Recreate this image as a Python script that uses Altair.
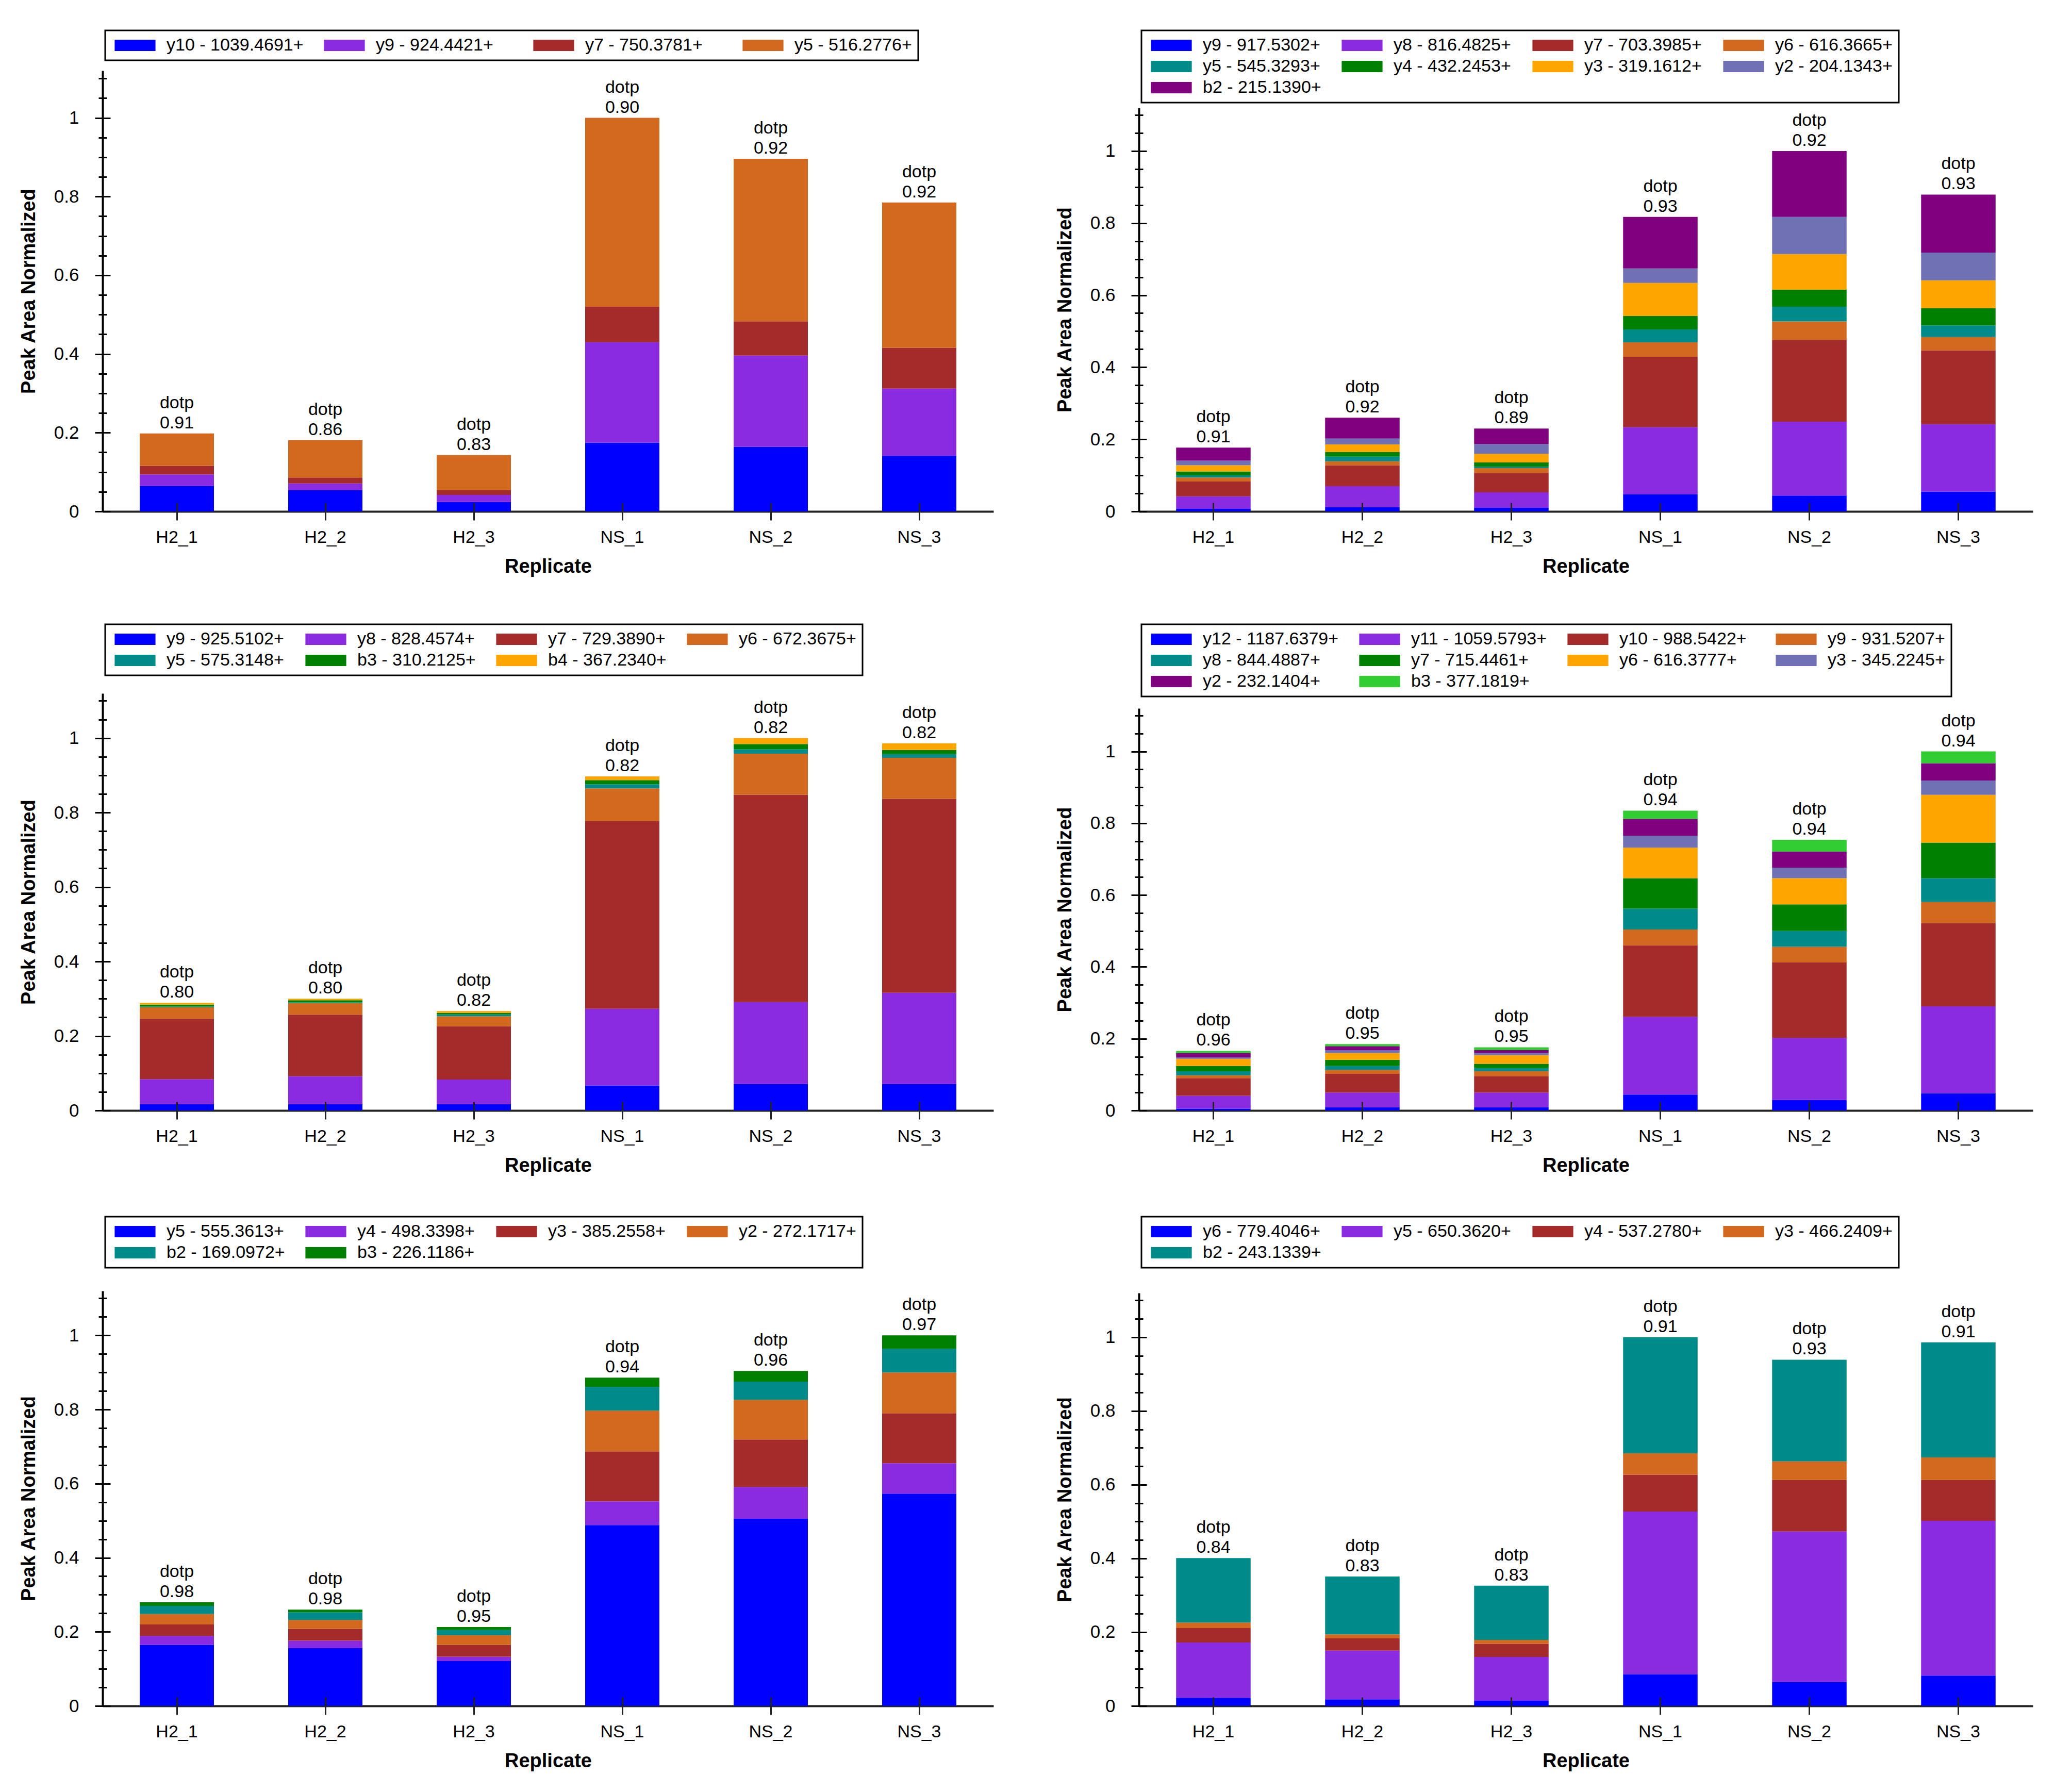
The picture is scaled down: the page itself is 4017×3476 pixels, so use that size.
import altair as alt
import pandas as pd

FONT = "Liberation Sans"
REPLICATES = ["H2_1", "H2_2", "H2_3", "NS_1", "NS_2", "NS_3"]

# ---------------- Panel 1 ----------------
P1_IONS = ["y10 - 1039.4691+", "y9 - 924.4421+", "y7 - 750.3781+", "y5 - 516.2776+"]
P1_COLORS = ["#0000FF", "#8A2BE2", "#A52A2A", "#D2691E"]
P1_VALUES = [
    [0.065, 0.054, 0.024, 0.175, 0.164, 0.141],
    [0.029, 0.017, 0.018, 0.255, 0.232, 0.171],
    [0.022, 0.015, 0.012, 0.090, 0.087, 0.104],
    [0.082, 0.095, 0.089, 0.480, 0.413, 0.369],
]
P1_DOTP = ["0.91", "0.86", "0.83", "0.90", "0.92", "0.92"]

# ---------------- Panel 2 ----------------
P2_IONS = ["y9 - 917.5302+", "y8 - 816.4825+", "y7 - 703.3985+", "y6 - 616.3665+",
           "y5 - 545.3293+", "y4 - 432.2453+", "y3 - 319.1612+", "y2 - 204.1343+",
           "b2 - 215.1390+"]
P2_COLORS = ["#0000FF", "#8A2BE2", "#A52A2A", "#D2691E", "#008B8B", "#008000",
             "#FFA500", "#7070B4", "#800080"]
P2_VALUES = [
    [0.007, 0.012, 0.010, 0.048, 0.044, 0.055],
    [0.035, 0.058, 0.043, 0.186, 0.205, 0.187],
    [0.041, 0.058, 0.054, 0.195, 0.227, 0.205],
    [0.011, 0.011, 0.013, 0.040, 0.051, 0.037],
    [0.006, 0.013, 0.004, 0.036, 0.041, 0.032],
    [0.011, 0.013, 0.012, 0.037, 0.047, 0.048],
    [0.017, 0.021, 0.024, 0.092, 0.099, 0.077],
    [0.013, 0.016, 0.027, 0.040, 0.103, 0.077],
    [0.036, 0.058, 0.043, 0.143, 0.183, 0.161],
]
P2_DOTP = ["0.91", "0.92", "0.89", "0.93", "0.92", "0.93"]

# ---------------- Panel 3 ----------------
P3_IONS = ["y9 - 925.5102+", "y8 - 828.4574+", "y7 - 729.3890+", "y6 - 672.3675+",
           "y5 - 575.3148+", "b3 - 310.2125+", "b4 - 367.2340+"]
P3_COLORS = ["#0000FF", "#8A2BE2", "#A52A2A", "#D2691E", "#008B8B", "#008000", "#FFA500"]
P3_VALUES = [
    [0.017, 0.017, 0.017, 0.067, 0.071, 0.071],
    [0.067, 0.075, 0.066, 0.206, 0.220, 0.245],
    [0.162, 0.165, 0.143, 0.504, 0.557, 0.521],
    [0.031, 0.031, 0.027, 0.088, 0.110, 0.110],
    [0.002, 0.002, 0.005, 0.011, 0.012, 0.010],
    [0.005, 0.006, 0.004, 0.011, 0.014, 0.011],
    [0.005, 0.004, 0.005, 0.010, 0.016, 0.018],
]
P3_DOTP = ["0.80", "0.80", "0.82", "0.82", "0.82", "0.82"]

# ---------------- Panel 4 ----------------
P4_IONS = ["y12 - 1187.6379+", "y11 - 1059.5793+", "y10 - 988.5422+", "y9 - 931.5207+",
           "y8 - 844.4887+", "y7 - 715.4461+", "y6 - 616.3777+", "y3 - 345.2245+",
           "y2 - 232.1404+", "b3 - 377.1819+"]
P4_COLORS = ["#0000FF", "#8A2BE2", "#A52A2A", "#D2691E", "#008B8B", "#008000",
             "#FFA500", "#7070B4", "#800080", "#32CD32"]
P4_VALUES = [
    [0.005, 0.009, 0.009, 0.044, 0.029, 0.048],
    [0.036, 0.041, 0.041, 0.217, 0.173, 0.242],
    [0.049, 0.052, 0.046, 0.199, 0.210, 0.232],
    [0.008, 0.011, 0.014, 0.044, 0.044, 0.059],
    [0.011, 0.011, 0.008, 0.058, 0.044, 0.066],
    [0.015, 0.017, 0.012, 0.085, 0.074, 0.099],
    [0.020, 0.019, 0.024, 0.085, 0.073, 0.133],
    [0.004, 0.008, 0.006, 0.033, 0.029, 0.040],
    [0.012, 0.011, 0.008, 0.047, 0.045, 0.048],
    [0.006, 0.006, 0.008, 0.023, 0.033, 0.033],
]
P4_DOTP = ["0.96", "0.95", "0.95", "0.94", "0.94", "0.94"]

# ---------------- Panel 5 ----------------
P5_IONS = ["y5 - 555.3613+", "y4 - 498.3398+", "y3 - 385.2558+", "y2 - 272.1717+",
           "b2 - 169.0972+", "b3 - 226.1186+"]
P5_COLORS = ["#0000FF", "#8A2BE2", "#A52A2A", "#D2691E", "#008B8B", "#008000"]
P5_VALUES = [
    [0.165, 0.156, 0.121, 0.488, 0.505, 0.573],
    [0.024, 0.020, 0.012, 0.064, 0.086, 0.082],
    [0.031, 0.032, 0.032, 0.135, 0.128, 0.135],
    [0.028, 0.024, 0.026, 0.110, 0.107, 0.110],
    [0.022, 0.021, 0.014, 0.064, 0.049, 0.064],
    [0.010, 0.007, 0.008, 0.025, 0.029, 0.036],
]
P5_DOTP = ["0.98", "0.98", "0.95", "0.94", "0.96", "0.97"]

# ---------------- Panel 6 ----------------
P6_IONS = ["y6 - 779.4046+", "y5 - 650.3620+", "y4 - 537.2780+", "y3 - 466.2409+",
           "b2 - 243.1339+"]
P6_COLORS = ["#0000FF", "#8A2BE2", "#A52A2A", "#D2691E", "#008B8B"]
P6_VALUES = [
    [0.022, 0.018, 0.014, 0.086, 0.065, 0.082],
    [0.150, 0.132, 0.119, 0.441, 0.408, 0.420],
    [0.039, 0.033, 0.035, 0.100, 0.140, 0.111],
    [0.015, 0.011, 0.011, 0.058, 0.050, 0.061],
    [0.175, 0.157, 0.147, 0.315, 0.276, 0.312],
]
P6_DOTP = ["0.84", "0.83", "0.83", "0.91", "0.93", "0.91"]

MAJOR = [0, 0.2, 0.4, 0.6, 0.8, 1.0]
MINOR = [round(0.05 * k, 2) for k in range(23)]
YMAX = 1.12


def make_panel(ions, colors, values, dotp, width, group_h, plot_h, legend_y):
    records = []
    for k, ion in enumerate(ions):
        for j, rep in enumerate(REPLICATES):
            records.append({"Replicate": rep, "Ion": ion, "Value": values[k][j], "Order": k})
    seg = pd.DataFrame(records)
    totals = pd.DataFrame({
        "Replicate": REPLICATES,
        "Total": [sum(v[j] for v in values) for j in range(len(REPLICATES))],
        "Dotp": dotp,
        "Label": ["dotp"] * len(REPLICATES),
    })
    xs = alt.Scale(domain=REPLICATES, paddingInner=0.5, paddingOuter=0.25)
    ys = alt.Scale(domain=[0, YMAX], nice=False, range=[group_h, group_h - plot_h])
    top_gap = group_h - plot_h

    bars = alt.Chart(seg).mark_bar().encode(
        x=alt.X("Replicate:N", scale=xs, sort=REPLICATES,
                axis=alt.Axis(orient="bottom", title="Replicate", ticks=False, labelAngle=0,
                              labelPadding=33, labelFontSize=34, labelColor="#000",
                              titleFontSize=38, titleFontWeight="bold", titleColor="#000",
                              titlePadding=21, domainWidth=4, domainColor="#222", grid=False)),
        y=alt.Y("Value:Q", stack="zero", scale=ys,
                axis=alt.Axis(orient="left", title="Peak Area Normalized", values=MAJOR,
                              format="~g", ticks=False, labelPadding=46, labelFontSize=35,
                              labelColor="#000", titleFontSize=38, titleFontWeight="bold",
                              titleColor="#000", titlePadding=29, domainWidth=4,
                              domainColor="#000", grid=False)),
        color=alt.Color("Ion:N", scale=alt.Scale(domain=ions, range=colors),
                        legend=alt.Legend(title=None, orient="none", legendX=5,
                                          legendY=legend_y + top_gap,
                                          direction="horizontal", columns=4, gridAlign="all",
                                          symbolType="M-3.6,-1H3.6V1H-3.6Z", symbolSize=484,
                                          symbolOffset=29, symbolStrokeWidth=0, symbolOpacity=1,
                                          labelOffset=44, labelFontSize=34, labelLimit=0,
                                          labelColor="#000", rowPadding=7, columnPadding=33,
                                          padding=12, strokeColor="#000", fillColor="#fff")),
        order=alt.Order("Order:Q", sort="ascending"),
    )

    val_text = alt.Chart(totals).mark_text(baseline="alphabetic", dy=-10, fontSize=34,
                                           color="#000").encode(
        x=alt.X("Replicate:N", scale=xs, sort=REPLICATES,
                axis=alt.Axis(orient="bottom", offset=-17, tickSize=34, tickWidth=3,
                              tickColor="#222", domain=False, labels=False, title=None,
                              grid=False, zindex=1)),
        y=alt.Y("Total:Q", scale=ys,
                axis=alt.Axis(orient="left", values=MAJOR, offset=-15, tickSize=30,
                              tickWidth=3, tickColor="#000", domain=False, labels=False,
                              title=None, grid=False, zindex=1)),
        text="Dotp:N",
    )
    dotp_text = alt.Chart(totals).mark_text(baseline="alphabetic", dy=-49, fontSize=34,
                                            color="#000").encode(
        x=alt.X("Replicate:N", scale=xs, sort=REPLICATES, axis=None),
        y=alt.Y("Total:Q", scale=ys,
                axis=alt.Axis(orient="left", values=MINOR, offset=-8, tickSize=16,
                              tickWidth=3, tickColor="#000", domain=False, labels=False,
                              title=None, grid=False, zindex=1)),
        text="Label:N",
    )
    return alt.layer(bars, val_text, dotp_text).resolve_axis(
        x="independent", y="independent").properties(width=width, height=group_h)


# row heights: the taller plot of each row sets the row's height
p1 = make_panel(P1_IONS, P1_COLORS, P1_VALUES, P1_DOTP, 1728, 855, 855, -78)
p2 = make_panel(P2_IONS, P2_COLORS, P2_VALUES, P2_DOTP, 1734, 855, 783, -150)
p3 = make_panel(P3_IONS, P3_COLORS, P3_VALUES, P3_DOTP, 1728, 809, 809, -134)
p4 = make_panel(P4_IONS, P4_COLORS, P4_VALUES, P4_DOTP, 1734, 809, 780, -163)
p5 = make_panel(P5_IONS, P5_COLORS, P5_VALUES, P5_DOTP, 1728, 805, 805, -144)
p6 = make_panel(P6_IONS, P6_COLORS, P6_VALUES, P6_DOTP, 1734, 805, 801, -148)

row1 = alt.hconcat(p1, p2, spacing=120).resolve_scale(color="independent")
row2 = alt.hconcat(p3, p4, spacing=120).resolve_scale(color="independent")
row3 = alt.hconcat(p5, p6, spacing=120).resolve_scale(color="independent")

lower = alt.vconcat(row2, row3, spacing=78).resolve_scale(color="independent")

chart = alt.vconcat(row1, lower, spacing=91).resolve_scale(
    color="independent"
).configure(
    font=FONT,
    padding={"left": 37, "top": 57, "right": 5, "bottom": 5},
    background="#ffffff",
).configure_view(stroke=None).configure_legend(strokeWidth=3)

chart.save("out.html", embed_options={"renderer": "svg", "actions": False})
